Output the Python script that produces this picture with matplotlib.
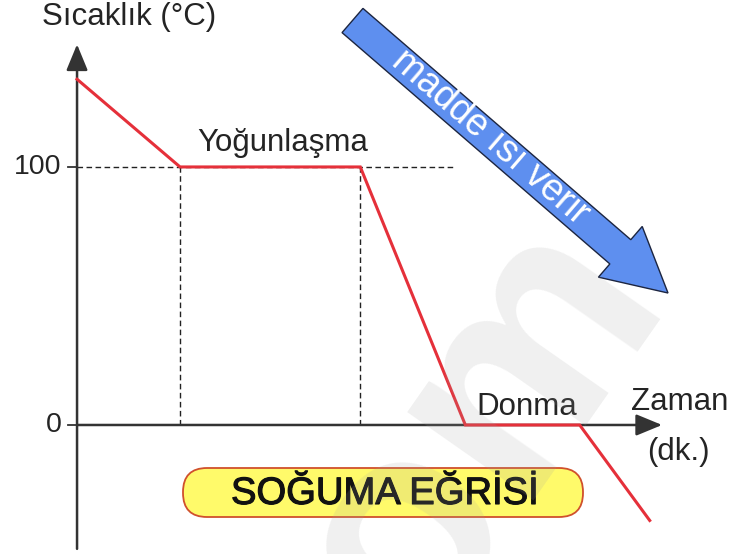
import matplotlib.pyplot as plt
import matplotlib.patches as mpatches
import matplotlib.patheffects as pe

plt.rcParams['font.family'] = ['Liberation Sans', 'DejaVu Sans']

# soğuma eğrisi: zaman (dk.) - sıcaklık (°C)
zaman = [0, 10, 27.5, 37.7, 48.8, 55.6]
sicaklik = [134, 100, 100, 0, 0, -37]
yticks = [100, 0]
ytick_labels = ['100', '0']
yogunlasma_bas, yogunlasma_son = zaman[1], zaman[2]

koyu = '#333333'
kirmizi = '#E5303A'
yazi = '#242424'
fs = 22.5

fig = plt.figure(figsize=(7.42, 5.54), dpi=100)
ax = fig.add_axes([0, 0, 1, 1])
ax.set_xlim(-7.48, 64.56)
ax.set_ylim(-50, 164.7)
ax.axis('off')

# kesikli yardımcı çizgiler
ax.plot([0, 36.7], [yticks[0], yticks[0]], color='#222222', lw=1.0, ls=(0, (4, 2.5)), zorder=1)
for t in [yogunlasma_bas, yogunlasma_son]:
    ax.plot([t, t], [0, 100], color='#222222', lw=1.0, ls=(0, (4, 2.5)), zorder=1)

# eksenler (oklu)
ok = dict(arrowstyle='-|>,head_length=0.8,head_width=0.33', color=koyu, lw=1.8,
          mutation_scale=20, shrinkA=0, shrinkB=0)
ax.annotate('', xy=(0, 147.5), xytext=(0, -48), arrowprops=ok, zorder=3)
ax.annotate('', xy=(56.8, 0), xytext=(0, 0), arrowprops=ok, zorder=3)

for y, lab in zip(yticks, ytick_labels):
    ax.plot([-0.9, 0], [y, y], color=koyu, lw=1.3, zorder=3)
    ax.text(-1.5, y, lab, ha='right', va='center', fontsize=20.5, color=yazi)

# eğri
ax.plot(zaman, sicaklik, color=kirmizi, lw=2.2, solid_joinstyle='miter', zorder=4)

ax.text(-3.4, 158.0, 'Sıcaklık (°C)', ha='left', va='center', fontsize=fs, color=yazi)
ax.text(20.0, 106.2, 'Yoğunlaşma', ha='center', va='baseline', fontsize=fs, color=yazi)
ax.text(43.7, 3.9, 'Donma', ha='center', va='baseline', fontsize=fs, color=yazi)
ax.text(58.5, 5.8, 'Zaman', ha='center', va='baseline', fontsize=fs, color=yazi)
ax.text(58.4, -10.5, '(dk.)', ha='center', va='center', fontsize=fs, color=yazi)

# süsleme katmanı (piksel koordinatları)
deco = fig.add_axes([0, 0, 1, 1])
deco.set_xlim(0, 742)
deco.set_ylim(554, 0)
deco.axis('off')
deco.patch.set_alpha(0)

kutu = mpatches.FancyBboxPatch((183, 468), 400, 49, boxstyle='round,pad=0,rounding_size=24',
                               fc='#FFFA6A', ec='#D0502C', lw=1.3, zorder=2)
deco.add_patch(kutu)
deco.text(385, 494, 'SOĞUMA EĞRİSİ', ha='center', va='center', fontsize=27.5, color='#111111', zorder=3,
          path_effects=[pe.withStroke(linewidth=0.8, foreground='#111111')])

mavi_ok = mpatches.FancyArrow(352.5, 20.5, 315.5, 272.5, width=32, head_width=67, head_length=63,
                              length_includes_head=True, fc='#5E8FEF', ec='#1C2540', lw=1.0, zorder=4)
deco.add_patch(mavi_ok)
deco.text(490, 137, 'madde ısı verir', rotation=-40.8, rotation_mode='anchor', ha='center', va='center',
          color='white', fontsize=27, zorder=5)

# filigran
deco.text(480, 430, 'om', rotation=55, rotation_mode='anchor', ha='center', va='center',
          fontsize=210, fontweight='bold', color='#a0a0a0', alpha=0.16, zorder=10)

fig.savefig('out.png', dpi=100)
